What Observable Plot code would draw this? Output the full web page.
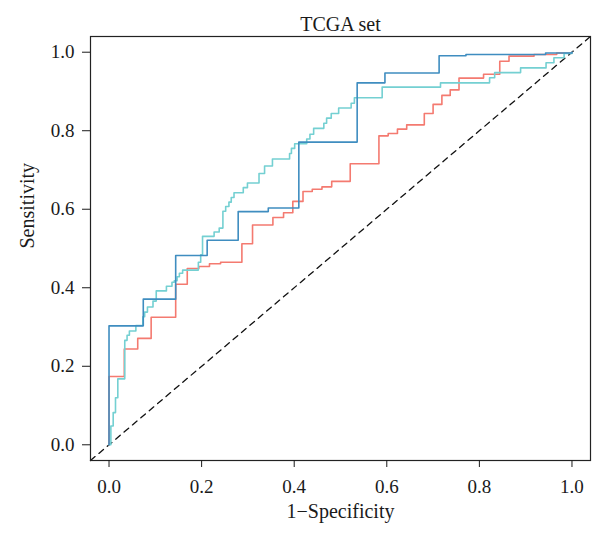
<!DOCTYPE html>
<html>
<head>
<meta charset="utf-8">
<script src="https://cdn.jsdelivr.net/npm/d3@7"></script>
<script src="https://cdn.jsdelivr.net/npm/@observablehq/plot@0.6"></script>
<style>
  html, body { margin: 0; padding: 0; background: #fff; }
</style>
</head>
<body>
<div id="chart"></div>
<script>
// ---- data ----
const title = "TCGA set";
const xLabel = "1\u2212Specificity";
const yLabel = "Sensitivity";
const tickValues = [0, 0.2, 0.4, 0.6, 0.8, 1.0];
const axisDomain = [-0.04, 1.04];

const redFpr = [0, 0, 0.033, 0.062, 0.091, 0.144, 0.169, 0.194, 0.217, 0.241, 0.287, 0.310, 0.354, 0.377, 0.397, 0.419, 0.439, 0.460, 0.481, 0.521, 0.583, 0.603, 0.623, 0.643, 0.681, 0.700, 0.719, 0.737, 0.756, 0.809, 0.844, 0.864, 0.918, 0.967, 1.0];
const redTpr = [0, 0.174, 0.244, 0.271, 0.325, 0.409, 0.449, 0.454, 0.461, 0.465, 0.512, 0.560, 0.579, 0.591, 0.620, 0.645, 0.651, 0.657, 0.671, 0.716, 0.787, 0.793, 0.804, 0.815, 0.844, 0.867, 0.890, 0.904, 0.934, 0.944, 0.977, 0.990, 0.994, 0.998, 1.0];

const cyanFpr = [0, 0.004, 0.009, 0.014, 0.019, 0.034, 0.039, 0.044, 0.058, 0.073, 0.077, 0.083, 0.095, 0.102, 0.124, 0.136, 0.141, 0.147, 0.152, 0.159, 0.193, 0.198, 0.202, 0.227, 0.238, 0.246, 0.252, 0.259, 0.264, 0.270, 0.290, 0.299, 0.324, 0.336, 0.353, 0.390, 0.394, 0.401, 0.427, 0.434, 0.442, 0.464, 0.470, 0.480, 0.496, 0.523, 0.530, 0.590, 0.716, 0.822, 0.833, 0.889, 0.944, 0.961, 0.983, 1.0];
const cyanTpr = [0, 0.048, 0.082, 0.120, 0.168, 0.266, 0.279, 0.290, 0.304, 0.326, 0.338, 0.351, 0.366, 0.392, 0.404, 0.414, 0.418, 0.428, 0.437, 0.445, 0.465, 0.484, 0.531, 0.542, 0.552, 0.595, 0.607, 0.618, 0.630, 0.642, 0.655, 0.667, 0.691, 0.710, 0.728, 0.742, 0.755, 0.767, 0.779, 0.791, 0.806, 0.819, 0.832, 0.844, 0.858, 0.870, 0.884, 0.911, 0.922, 0.935, 0.948, 0.960, 0.973, 0.986, 0.997, 1.0];

const blueFpr = [0, 0, 0.074, 0.144, 0.212, 0.279, 0.344, 0.410, 0.536, 0.596, 0.713, 0.771, 0.943, 1.0];
const blueTpr = [0, 0.303, 0.371, 0.482, 0.521, 0.594, 0.603, 0.771, 0.922, 0.947, 0.991, 0.994, 0.998, 1.0];

const seriesColors = { red: "#F47A70", cyan: "#74D0D2", blue: "#3F8DC0" };

// ---- build tables ----
const toRows = (xs, ys) => xs.map((x, i) => ({ x, y: ys[i] }));
const red = toRows(redFpr, redTpr);
const cyan = toRows(cyanFpr, cyanTpr);
const blue = toRows(blueFpr, blueTpr);
const diagonal = axisDomain.map(v => ({ x: v, y: v }));

const font = "'Liberation Serif', 'DejaVu Serif', serif";

const chart = Plot.plot({
  width: 593,
  height: 534,
  marginLeft: 90,
  marginRight: 3,
  marginTop: 36,
  marginBottom: 74,
  style: { fontFamily: font, fontSize: "19px", background: "#fff", color: "#1a1a1a" },
  x: { domain: axisDomain, label: null },
  y: { domain: axisDomain, label: null },
  marks: [
    Plot.line(diagonal, { x: "x", y: "y", stroke: "#111", strokeWidth: 1.3, strokeDasharray: "6,5" }),
    Plot.line(red, { x: "x", y: "y", curve: "step-after", stroke: seriesColors.red, strokeWidth: 1.6 }),
    Plot.line(cyan, { x: "x", y: "y", curve: "step-after", stroke: seriesColors.cyan, strokeWidth: 1.6 }),
    Plot.line(blue, { x: "x", y: "y", curve: "step-after", stroke: seriesColors.blue, strokeWidth: 1.6 }),
    Plot.frame({ stroke: "#222", strokeWidth: 1.2 }),
    Plot.axisX({ ticks: tickValues, tickFormat: d3.format(".1f"), tickSize: 7, tickPadding: 12, label: null, fontSize: 19 }),
    Plot.axisY({ ticks: tickValues, tickFormat: d3.format(".1f"), tickSize: 8, tickPadding: 8, label: null, fontSize: 19 }),
    Plot.text([title], { frameAnchor: "top", dy: -20, fontSize: 20, fill: "#1a1a1a" }),
    Plot.text([xLabel], { frameAnchor: "bottom", dy: 57, fontSize: 20, fill: "#1a1a1a" }),
    Plot.text([yLabel], { frameAnchor: "left", dx: -63, rotate: -90, fontSize: 20, fill: "#1a1a1a" })
  ]
});
document.getElementById("chart").appendChild(chart);
</script>
</body>
</html>
